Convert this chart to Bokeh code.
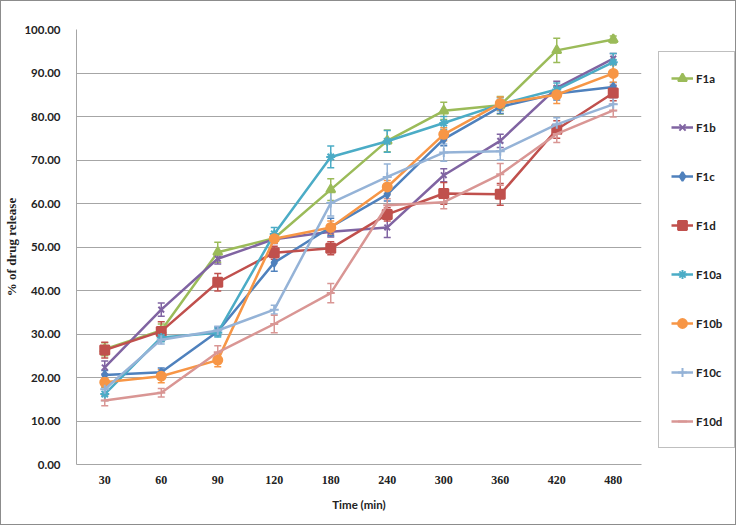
from bokeh.plotting import figure
from bokeh.layouts import row
from bokeh.models import (FactorRange, Range1d, Legend, LegendItem, Whisker,
                          ColumnDataSource, NumeralTickFormatter, FixedTicker, TeeHead)
from bokeh.embed import file_html
from bokeh.resources import INLINE

times = ["30", "60", "90", "120", "180", "240", "300", "360", "420", "480"]

f1a = [26.5, 30.8, 48.8, 52.0, 63.2, 74.4, 81.3, 82.6, 95.2, 97.7]
f1b = [22.3, 35.6, 47.3, 51.8, 53.5, 54.5, 66.5, 74.4, 86.6, 93.3]
f1c = [20.6, 21.2, 30.6, 46.4, 54.6, 62.1, 74.8, 82.2, 85.3, 86.8]
f1d = [26.3, 30.6, 41.9, 48.7, 49.7, 57.5, 62.3, 62.1, 77.0, 85.4]
f10a = [16.2, 29.2, 30.3, 53.0, 70.7, 74.3, 78.5, 82.8, 86.2, 92.5]
f10b = [18.9, 20.3, 24.0, 51.9, 54.5, 63.8, 75.9, 83.0, 85.0, 89.9]
f10c = [17.3, 28.7, 30.8, 35.6, 60.1, 66.1, 71.7, 72.0, 78.2, 82.8]
f10d = [14.7, 16.5, 25.8, 32.3, 39.4, 59.6, 60.3, 66.7, 76.0, 81.4]

e1a = [1.5, 1.5, 2.3, 1.0, 2.5, 2.5, 2.0, 2.0, 2.8, 0.8]
e1b = [1.5, 1.5, 1.2, 1.0, 1.2, 2.3, 1.5, 1.5, 1.5, 1.2]
e1c = [1.0, 1.0, 1.0, 2.0, 2.0, 1.5, 1.5, 1.5, 1.5, 1.0]
e1d = [1.8, 2.2, 2.0, 1.5, 1.5, 1.5, 2.5, 2.5, 2.0, 1.8]
e10a = [1.5, 1.0, 1.0, 1.5, 2.5, 2.5, 1.5, 1.5, 1.5, 2.0]
e10b = [1.0, 1.5, 1.5, 1.0, 1.5, 1.5, 1.5, 1.5, 2.0, 2.0]
e10c = [1.2, 1.0, 1.0, 1.0, 3.0, 3.0, 2.0, 2.0, 1.5, 1.5]
e10d = [1.2, 1.0, 1.5, 2.0, 2.2, 1.5, 1.5, 2.5, 2.0, 1.5]

names = ["F1a", "F1b", "F1c", "F1d", "F10a", "F10b", "F10c", "F10d"]
values = [f1a, f1b, f1c, f1d, f10a, f10b, f10c, f10d]
errors = [e1a, e1b, e1c, e1d, e10a, e10b, e10c, e10d]
colors = ["#9BBB59", "#8064A2", "#4F81BD", "#C0504D", "#4BACC6", "#F79646", "#95B3D7", "#D99694"]
markers = ["triangle", "x", "diamond", "square", "asterisk", "circle", "cross", "dash"]
sizes = [9, 8, 8, 9, 9, 9, 9, 8]

y_ticks = [0, 10, 20, 30, 40, 50, 60, 70, 80, 90, 100]

H = 523
p = figure(width=645, height=H, x_range=FactorRange(*times), y_range=Range1d(0, 100),
           output_backend="svg", toolbar_location=None,
           min_border_left=67, min_border_right=5, min_border_top=28, min_border_bottom=60)

p.outline_line_color = None
p.xgrid.grid_line_color = None
p.ygrid.grid_line_color = "#a6a6a6"
p.ygrid.grid_line_width = 1

p.yaxis.ticker = FixedTicker(ticks=y_ticks)
p.yaxis.formatter = NumeralTickFormatter(format="0.00")
for ax in (p.xaxis[0], p.yaxis[0]):
    ax.axis_line_color = "#a6a6a6"
    ax.major_tick_line_color = None
    ax.minor_tick_line_color = None

p.yaxis.major_label_text_font = "Lato"
p.yaxis.major_label_text_font_style = "bold"
p.yaxis.major_label_text_font_size = "11.5px"
p.yaxis.major_label_text_color = "#222222"
p.yaxis.major_label_standoff = 10
p.yaxis.axis_label = "% of drug release"
p.yaxis.axis_label_text_font = "Liberation Serif"
p.yaxis.axis_label_text_font_style = "bold"
p.yaxis.axis_label_text_font_size = "13px"
p.yaxis.axis_label_text_color = "#222222"
p.yaxis.axis_label_standoff = 2

p.xaxis.major_label_text_font = "Liberation Serif"
p.xaxis.major_label_text_font_style = "bold"
p.xaxis.major_label_text_font_size = "12px"
p.xaxis.major_label_text_color = "#222222"
p.xaxis.major_label_standoff = 5
p.xaxis.axis_label = "Time (min)"
p.xaxis.axis_label_text_font = "Lato"
p.xaxis.axis_label_text_font_style = "bold"
p.xaxis.axis_label_text_font_size = "11.5px"
p.xaxis.axis_label_text_color = "#222222"
p.xaxis.axis_label_standoff = 11

# legend panel: same series drawn against a y range far above the data, so only the legend shows
q = figure(width=89, height=H, x_range=FactorRange(*times), y_range=Range1d(1000, 1100),
           output_backend="svg", toolbar_location=None,
           x_axis_location=None, y_axis_location=None, min_border=0)
q.outline_line_color = None
q.xgrid.grid_line_color = None
q.ygrid.grid_line_color = None

items = []
for name, vals, errs, col, mk, sz in zip(names, values, errors, colors, markers, sizes):
    src = ColumnDataSource(dict(x=times, y=vals,
                                lower=[v - e for v, e in zip(vals, errs)],
                                upper=[v + e for v, e in zip(vals, errs)]))
    w = Whisker(base="x", lower="lower", upper="upper", source=src,
                line_color=col, line_width=1.5,
                upper_head=TeeHead(size=7, line_color=col, line_width=1.5),
                lower_head=TeeHead(size=7, line_color=col, line_width=1.5))
    p.add_layout(w)
    p.line("x", "y", source=src, line_color=col, line_width=2.5)
    p.scatter("x", "y", source=src, marker=mk, size=sz, fill_color=col,
              line_color=col, line_width=2)
    lr = q.line("x", "y", source=src, line_color=col, line_width=2.5)
    sr = q.scatter("x", "y", source=src, marker=mk, size=sz, fill_color=col,
                   line_color=col, line_width=2)
    items.append(LegendItem(label=name, renderers=[lr, sr]))

legend = Legend(items=items, location=(12, 16))
legend.padding = 12
legend.margin = 0
legend.spacing = 21
legend.label_height = 28
legend.glyph_height = 28
legend.glyph_width = 22
legend.label_standoff = 3
legend.label_text_font = "Lato"
legend.label_text_font_style = "bold"
legend.label_text_font_size = "11.5px"
legend.label_text_color = "#222222"
legend.border_line_color = "#7f7f7f"
legend.border_line_width = 1
legend.background_fill_color = "white"
legend.background_fill_alpha = 1
q.add_layout(legend, "center")

layout = row(p, q, styles={"border": "1px solid #8c8c8c"})

with open("out.html", "w") as f:
    f.write(file_html(layout, INLINE))
